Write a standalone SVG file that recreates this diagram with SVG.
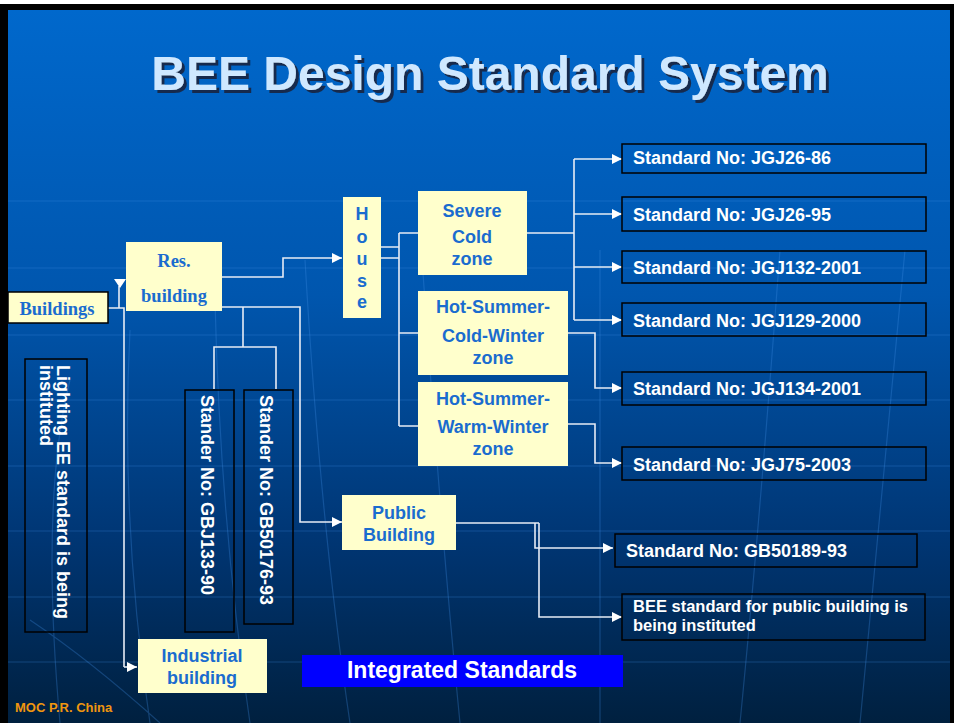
<svg xmlns="http://www.w3.org/2000/svg" width="954" height="723" viewBox="0 0 954 723">
<defs>
<linearGradient id="bg" x1="0" y1="0" x2="0" y2="1">
<stop offset="0" stop-color="#0068cc"/>
<stop offset="0.4" stop-color="#0056ae"/>
<stop offset="0.75" stop-color="#003572"/>
<stop offset="1" stop-color="#00203f"/>
</linearGradient>
<filter id="shadow" x="-5%" y="-20%" width="110%" height="140%">
<feDropShadow dx="3" dy="3" stdDeviation="0" flood-color="#16294d" flood-opacity="1"/>
</filter>
<marker id="arr" viewBox="0 0 10 10" refX="10" refY="5" markerWidth="10" markerHeight="10" markerUnits="userSpaceOnUse" orient="auto">
<path d="M0,0 L10,5 L0,10 Z" fill="#ffffff"/>
</marker>
<style>
.grid{stroke:#3f8fe6;stroke-width:1.2;fill:none;opacity:0.3}
.yel{fill:#ffffcc}
.yb{fill:#ffffcc;stroke:#000;stroke-width:1.5}
.dk{fill:none;stroke:#000;stroke-width:1.5}
.bt{font-family:"Liberation Sans",Arial,sans-serif;font-weight:bold;fill:#1a6ccf;font-size:18px;text-anchor:middle}
.st{font-family:"Liberation Serif","Times New Roman",serif;font-weight:bold;fill:#1a6ccf;font-size:18.5px;text-anchor:middle}
.wt{font-family:"Liberation Sans",Arial,sans-serif;font-weight:bold;fill:#ffffff;font-size:18px}
.sm{font-size:16.5px}
.big{font-size:23px;text-anchor:middle}
.con{fill:none;stroke:#e6ecf5;stroke-width:1.6}
</style>
</defs>
<rect x="0" y="0" width="954" height="723" fill="#ffffff"/>
<rect x="0" y="4" width="954" height="719" fill="#000"/>
<rect x="8" y="10" width="942" height="713" fill="url(#bg)"/>
<g id="grid">
<path class="grid" d="M8,201 H950 M8,268 H950 M8,335 H950 M8,400 H950 M8,466 H950 M8,531 H950 M8,597 H950 M8,662 H950"/>
<path class="grid" d="M60,723 Q40,500 70,380 M150,723 Q120,520 130,330 M250,723 Q220,520 215,300 M350,723 Q320,520 305,260 M460,723 Q440,520 420,230 M600,723 Q600,520 600,250 M740,723 Q760,520 780,250 M860,723 Q880,520 905,250 M30,620 Q90,660 160,723"/>
</g>
<g id="title">
<text x="490" y="90" font-family="Liberation Sans,Arial,sans-serif" font-weight="bold" font-size="48" text-anchor="middle" fill="#cfe8ff" filter="url(#shadow)">BEE Design Standard System</text>
</g>
<g id="connectors">
<path class="con" d="M108,308 H124 V667"/>
<path class="con" d="M124,667 H137" marker-end="url(#arr)"/>
<path class="con" d="M119,308 V286"/>
<polygon points="114,279 126,279 120,288" fill="#ffffff"/>
<path class="con" d="M222,277 H283 V258 H342" marker-end="url(#arr)"/>
<path class="con" d="M222,307 H300 V522 H342" marker-end="url(#arr)"/>
<path class="con" d="M243,307 V347 M214,389 V347 H276 V389"/>
<path class="con" d="M381,247 H399 M381,258 H399 M399,233 V426 M399,233 H418 M399,333 H418 M399,426 H418"/>
<path class="con" d="M527,233 H574 M574,159 V320"/>
<path class="con" d="M574,159 H622" marker-end="url(#arr)"/>
<path class="con" d="M574,214 H622" marker-end="url(#arr)"/>
<path class="con" d="M574,267 H622" marker-end="url(#arr)"/>
<path class="con" d="M574,320 H622" marker-end="url(#arr)"/>
<path class="con" d="M568,333 H595 V388 H622" marker-end="url(#arr)"/>
<path class="con" d="M568,424 H595 V463 H622" marker-end="url(#arr)"/>
<path class="con" d="M456,523 H539 M535,523 V548 H613" marker-end="url(#arr)"/>
<path class="con" d="M539,523 V617 H622" marker-end="url(#arr)"/>
</g>
<g id="buildings">
<rect class="yb" x="8" y="292" width="100" height="31"/>
<text class="st" x="57" y="315">Buildings</text>
</g>
<g id="res-building">
<rect class="yel" x="126" y="242" width="96" height="69"/>
<text class="st" x="174" y="267">Res.</text>
<text class="st" x="174" y="302">building</text>
</g>
<g id="house">
<rect class="yel" x="343" y="197" width="38" height="121"/>
<text class="bt" x="362" y="220">H</text>
<text class="bt" x="362" y="243">o</text>
<text class="bt" x="362" y="265">u</text>
<text class="bt" x="362" y="287">s</text>
<text class="bt" x="362" y="308">e</text>
</g>
<g id="severe-cold">
<rect class="yel" x="418" y="191" width="109" height="84"/>
<text class="bt" x="472" y="217">Severe</text>
<text class="bt" x="472" y="243">Cold</text>
<text class="bt" x="472" y="265">zone</text>
</g>
<g id="hscw">
<rect class="yel" x="418" y="291" width="150" height="84"/>
<text class="bt" x="493" y="313">Hot-Summer-</text>
<text class="bt" x="493" y="342">Cold-Winter</text>
<text class="bt" x="493" y="364">zone</text>
</g>
<g id="hsww">
<rect class="yel" x="418" y="382" width="150" height="84"/>
<text class="bt" x="493" y="405">Hot-Summer-</text>
<text class="bt" x="493" y="433">Warm-Winter</text>
<text class="bt" x="493" y="455">zone</text>
</g>
<g id="public-building">
<rect class="yel" x="342" y="495" width="114" height="55"/>
<text class="bt" x="399" y="519">Public</text>
<text class="bt" x="399" y="541">Building</text>
</g>
<g id="industrial-building">
<rect class="yel" x="138" y="639" width="129" height="54"/>
<text class="bt" x="202" y="662">Industrial</text>
<text class="bt" x="202" y="684">building</text>
</g>
<g id="lighting">
<rect class="dk" x="25" y="359" width="62" height="273"/>
<text class="wt" transform="translate(57,365) rotate(90)">Lighting EE standard is being</text>
<text class="wt" transform="translate(40,365) rotate(90)">instituted</text>
</g>
<g id="gbj133">
<rect class="dk" x="185" y="390" width="49" height="242"/>
<text class="wt" transform="translate(201,395) rotate(90)">Stander No: GBJ133-90</text>
</g>
<g id="gb50176">
<rect class="dk" x="244" y="390" width="49" height="234"/>
<text class="wt" transform="translate(260,395) rotate(90)">Stander No: GB50176-93</text>
</g>
<g id="jgj26-86">
<rect class="dk" x="622" y="144" width="304" height="29"/>
<text class="wt" x="633" y="164">Standard No: JGJ26-86</text>
</g>
<g id="jgj26-95">
<rect class="dk" x="622" y="197" width="304" height="34"/>
<text class="wt" x="633" y="221">Standard No: JGJ26-95</text>
</g>
<g id="jgj132">
<rect class="dk" x="622" y="251" width="304" height="32"/>
<text class="wt" x="633" y="274">Standard No: JGJ132-2001</text>
</g>
<g id="jgj129">
<rect class="dk" x="622" y="303" width="304" height="33"/>
<text class="wt" x="633" y="327">Standard No: JGJ129-2000</text>
</g>
<g id="jgj134">
<rect class="dk" x="622" y="372" width="304" height="33"/>
<text class="wt" x="633" y="395">Standard No: JGJ134-2001</text>
</g>
<g id="jgj75">
<rect class="dk" x="622" y="447" width="304" height="33"/>
<text class="wt" x="633" y="471">Standard No: JGJ75-2003</text>
</g>
<g id="gb50189">
<rect class="dk" x="615" y="534" width="302" height="33"/>
<text class="wt" x="626" y="557">Standard No: GB50189-93</text>
</g>
<g id="bee-public">
<rect class="dk" x="622" y="594" width="303" height="46"/>
<text class="wt sm" x="633" y="612">BEE standard for public building is</text>
<text class="wt sm" x="633" y="631">being instituted</text>
</g>
<g id="integrated">
<rect x="302" y="655" width="321" height="32" fill="#0000ff"/>
<text class="wt big" x="462" y="678">Integrated Standards</text>
</g>
<text x="15" y="712" font-family="Liberation Sans,Arial,sans-serif" font-weight="bold" font-size="13" fill="#f0960f">MOC P.R. China</text>
</svg>
